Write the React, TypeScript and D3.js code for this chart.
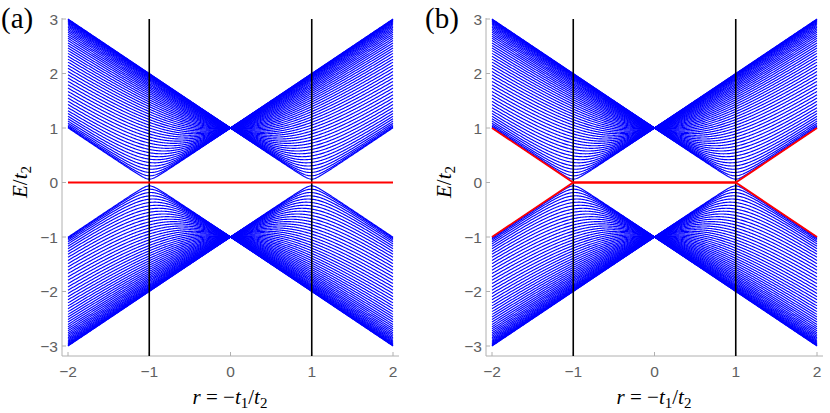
import * as d3 from 'd3';

// quantised momenta of the finite chain, in units of pi
const modeK = [
  0.0196, 0.0392, 0.0588, 0.0784, 0.098, 0.1176, 0.1373, 0.1569, 0.1765, 0.1961,
  0.2157, 0.2353, 0.2549, 0.2745, 0.2941, 0.3137, 0.3333, 0.3529, 0.3725, 0.3922,
  0.4118, 0.4314, 0.451, 0.4706, 0.4902, 0.5098, 0.5294, 0.549, 0.5686, 0.5882,
  0.6078, 0.6275, 0.6471, 0.6667, 0.6863, 0.7059, 0.7255, 0.7451, 0.7647, 0.7843,
  0.8039, 0.8235, 0.8431, 0.8627, 0.8824, 0.902, 0.9216, 0.9412, 0.9608, 0.9804,
];

// red (edge) modes for each panel: [r, E]
const edgeA = [
  [[-2, 0], [2, 0]],
];
const edgeB = [
  [[-2, 1], [-1, 0], [1, 0], [2, 1]],
  [[-2, -1], [-1, 0], [1, 0], [2, -1]],
];

const criticalR = [-1, 1];
const xTicks = [-2, -1, 0, 1, 2];
const yTicks = [-3, -2, -1, 0, 1, 2, 3];
const panelLabels = ['(a)', '(b)'];

const fmt = (v: number) => (v < 0 ? '\u2212' + Math.abs(v) : String(v));

const rGrid = d3.range(-2, 2.0001, 0.01);

function Panel({ dx, label, edges }: { dx: number; label: string; edges: number[][][] }) {
  const x = d3.scaleLinear().domain([-2, 2]).range([68 + dx, 393 + dx]);
  const y = d3.scaleLinear().domain([-3, 3]).range([346, 19]);
  const axisLeft = 62 + dx;
  const axisRight = 399 + dx;
  const axisBottom = 356;
  const axisTop = 18;

  const line = d3
    .line<number[]>()
    .x((d) => x(d[0]))
    .y((d) => y(d[1]));

  const bands: string[] = [];
  modeK.forEach((k) => {
    const c = Math.cos(Math.PI * k);
    const up = rGrid.map((r) => [r, Math.sqrt(Math.max(0, 1 + r * r + 2 * r * c))]);
    const dn = up.map((p) => [p[0], -p[1]]);
    bands.push(line(up) as string, line(dn) as string);
  });

  const tickColor = '#606060';
  const axisColor = '#b0b0b0';

  return (
    <g>
      {/* frame */}
      <line x1={axisLeft} x2={axisLeft} y1={axisTop} y2={axisBottom} stroke={axisColor} strokeWidth={1} />
      <line x1={axisLeft} x2={axisRight} y1={axisBottom} y2={axisBottom} stroke={axisColor} strokeWidth={1} />
      {yTicks.map((t) => (
        <g key={'y' + t}>
          <line x1={axisLeft} x2={axisLeft + 4} y1={y(t)} y2={y(t)} stroke={axisColor} />
          <text
            x={axisLeft - 4}
            y={y(t) + 5.5}
            textAnchor="end"
            fontFamily="Liberation Sans, Arial, sans-serif"
            fontSize={15.5}
            fill={tickColor}
          >
            {fmt(t)}
          </text>
        </g>
      ))}
      {xTicks.map((t) => (
        <g key={'x' + t}>
          <line x1={x(t)} x2={x(t)} y1={axisBottom} y2={axisBottom - 4} stroke={axisColor} />
          <text
            x={x(t)}
            y={377}
            textAnchor="middle"
            fontFamily="Liberation Sans, Arial, sans-serif"
            fontSize={15.5}
            fill={tickColor}
          >
            {fmt(t)}
          </text>
        </g>
      ))}

      {/* bulk bands */}
      {bands.map((d, i) => (
        <path key={i} d={d} fill="none" stroke="#0000ff" strokeWidth={1.15} />
      ))}

      {/* critical points */}
      {criticalR.map((r) => (
        <line key={r} x1={x(r)} x2={x(r)} y1={y(3)} y2={axisBottom} stroke="#000" strokeWidth={1.6} />
      ))}

      {/* edge modes */}
      {edges.map((e, i) => (
        <path key={'e' + i} d={line(e) as string} fill="none" stroke="#ff0000" strokeWidth={1.8} />
      ))}

      {/* labels */}
      <text x={1 + dx} y={28} fontFamily="Liberation Serif, DejaVu Serif, serif" fontSize={29}>
        {label}
      </text>
      <text
        x={230 + dx}
        y={404}
        textAnchor="middle"
        fontFamily="Liberation Serif, DejaVu Serif, serif"
        fontSize={21}
      >
        <tspan fontStyle="italic">r</tspan>
        <tspan> = −</tspan>
        <tspan fontStyle="italic">t</tspan>
        <tspan fontSize={15} dy={4}>1</tspan>
        <tspan dy={-4}>/</tspan>
        <tspan fontStyle="italic">t</tspan>
        <tspan fontSize={15} dy={4}>2</tspan>
      </text>
      <text
        transform={`translate(${27 + dx},${182}) rotate(-90)`}
        textAnchor="middle"
        fontFamily="Liberation Serif, DejaVu Serif, serif"
        fontSize={21}
      >
        <tspan fontStyle="italic">E</tspan>
        <tspan>/</tspan>
        <tspan fontStyle="italic">t</tspan>
        <tspan fontSize={15} dy={4}>2</tspan>
      </text>
    </g>
  );
}

export default function App() {
  return (
    <svg
      width={830}
      height={413}
      style={{ position: 'absolute', left: 0, top: 0, background: '#fff' }}
    >
      <Panel dx={0} label={panelLabels[0]} edges={edgeA} />
      <Panel dx={424} label={panelLabels[1]} edges={edgeB} />
    </svg>
  );
}
